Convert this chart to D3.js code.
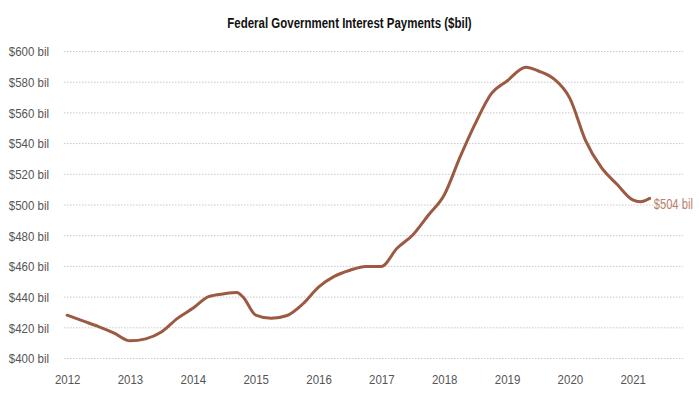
<!DOCTYPE html>
<html>
<head>
<meta charset="utf-8">
<script src="https://cdn.jsdelivr.net/npm/d3@7"></script>
<style>
  body { margin: 0; background: #fff; }
  svg { font-family: "Liberation Sans", Arial, sans-serif; }
  .grid line { stroke: #c8c8c8; stroke-dasharray: 1.5,1.5; }
  .axis text { fill: #555; font-size: 13.5px; }
</style>
</head>
<body>
<div id="chart"></div>
<script>
// quarterly points, fractional year
const dates = [
  2012.00, 2012.25, 2012.50, 2012.75,
  2013.00, 2013.25, 2013.50, 2013.75,
  2014.00, 2014.25, 2014.50, 2014.70, 2014.80,
  2015.00, 2015.25, 2015.50, 2015.75,
  2016.00, 2016.25, 2016.50, 2016.75,
  2017.00, 2017.25, 2017.50, 2017.75,
  2018.00, 2018.25, 2018.50, 2018.75,
  2019.00, 2019.30, 2019.50, 2019.75,
  2020.00, 2020.25, 2020.50, 2020.75,
  2021.00, 2021.12, 2021.27
];
const values = [
  428.2, 424.5, 420.8, 416.5,
  411.5, 412.8, 417.2, 426.0,
  432.7, 440.3, 442.2, 443.0, 440.0,
  428.3, 426.2, 428.0, 435.5,
  446.5, 453.5, 457.5, 460.0,
  460.0, 471.8, 480.5, 493.5,
  506.5, 531.0, 553.5, 572.5,
  580.8, 589.7, 587.3, 582.0,
  569.5, 542.0, 524.5, 513.5,
  503.3, 502.1, 504.3
];
const yTicks = [400, 420, 440, 460, 480, 500, 520, 540, 560, 580, 600];
const xTicks = [2012, 2013, 2014, 2015, 2016, 2017, 2018, 2019, 2020, 2021];
const title = 'Federal Government Interest Payments ($bil)';
const endLabel = '$504 bil';

const width = 699, height = 399;
const margin = { top: 51.5, right: 16, bottom: 40.5, left: 64 };

const svg = d3.select('#chart').append('svg')
  .attr('width', width)
  .attr('height', height);

const x = d3.scaleLinear()
  .domain([2011.95, 2021.8])
  .range([margin.left, width - margin.right]);
const y = d3.scaleLinear()
  .domain([400, 600])
  .range([height - margin.bottom, margin.top]);

// no narrow font installed, so squeeze the glyphs a bit
function condense(sel, k) {
  sel.each(function () {
    const w = this.getComputedTextLength();
    d3.select(this)
      .attr('textLength', w * k)
      .attr('lengthAdjust', 'spacingAndGlyphs');
  });
}

// title
svg.append('text')
  .attr('x', width / 2)
  .attr('y', 28)
  .attr('text-anchor', 'middle')
  .style('font-size', '14px')
  .style('font-weight', 'bold')
  .style('fill', '#111')
  .text(title)
  .call(condense, 0.82);

// gridlines
svg.append('g')
  .attr('class', 'grid')
  .selectAll('line')
  .data(yTicks)
  .join('line')
  .attr('x1', margin.left)
  .attr('x2', width - margin.right)
  .attr('y1', d => y(d))
  .attr('y2', d => y(d));

// y axis
const yAxis = svg.append('g')
  .attr('class', 'axis')
  .attr('transform', `translate(${margin.left}, 0)`)
  .call(d3.axisLeft(y).tickValues(yTicks).tickSize(0).tickPadding(15)
    .tickFormat(d => `$${d} bil`));
yAxis.select('.domain').remove();
yAxis.selectAll('text').call(condense, 0.85);

// x axis
const xAxis = svg.append('g')
  .attr('class', 'axis')
  .attr('transform', `translate(0, ${height - margin.bottom})`)
  .call(d3.axisBottom(x).tickValues(xTicks).tickSize(0).tickPadding(16)
    .tickFormat(d3.format('d')));
xAxis.select('.domain').remove();
xAxis.selectAll('text').call(condense, 0.85);

// line
const data = dates.map((d, i) => ({ date: d, value: values[i] }));
const line = d3.line()
  .x(d => x(d.date))
  .y(d => y(d.value))
  .curve(d3.curveMonotoneX);

svg.append('path')
  .datum(data)
  .attr('d', line)
  .style('fill', 'none')
  .style('stroke', '#9c5a43')
  .style('stroke-width', 3)
  .style('stroke-linecap', 'round');

// end label (scaled in a group so it stays inside the frame)
const last = data[data.length - 1];
svg.append('g')
  .attr('transform', `translate(${x(last.date) + 4}, ${y(last.value)}) scale(0.8, 1)`)
  .append('text')
  .attr('dy', '0.75em')
  .style('font-size', '14px')
  .style('fill', '#b98169')
  .text(endLabel);
</script>
</body>
</html>
